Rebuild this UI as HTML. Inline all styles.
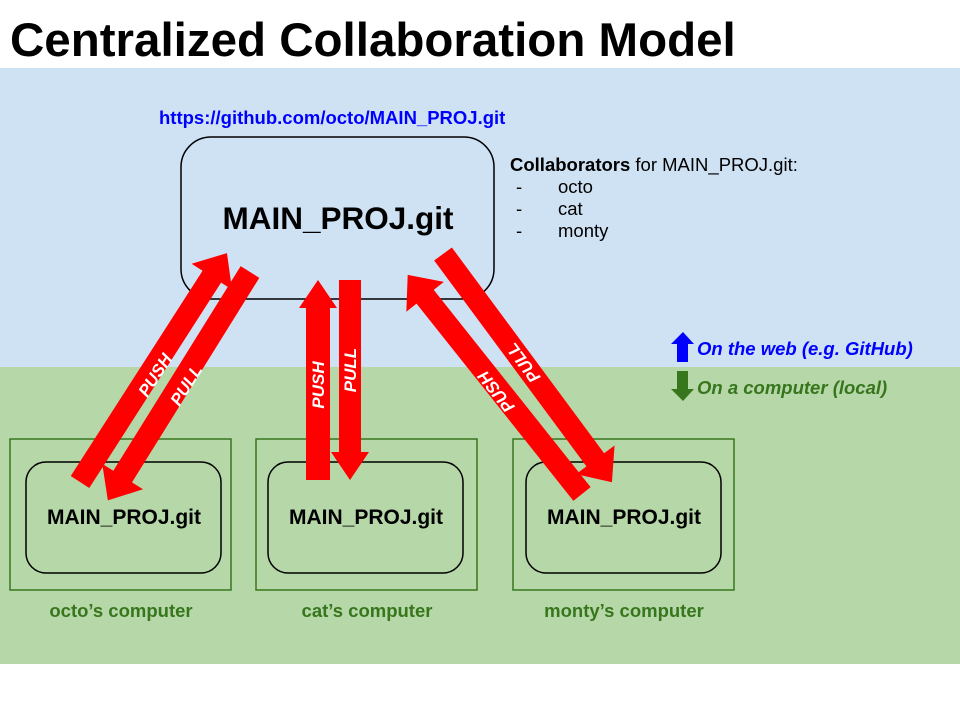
<!DOCTYPE html>
<html><head><meta charset="utf-8"><style>
body{margin:0;width:960px;height:720px;background:#fff;overflow:hidden;font-family:"Liberation Sans",Arial,sans-serif}
</style></head><body>
<svg width="960" height="720" viewBox="0 0 960 720" xmlns="http://www.w3.org/2000/svg" font-family="Liberation Sans, Arial, sans-serif">
<rect x="0" y="0" width="960" height="720" fill="#fff"/>
<text x="10" y="56" font-size="47.5" font-weight="bold" fill="#000">Centralized Collaboration Model</text>
<rect x="0" y="68" width="960" height="299" fill="#cfe2f3"/>
<rect x="0" y="367" width="960" height="297" fill="#b6d7a8"/>
<text x="159" y="124" font-size="18.5" font-weight="bold" fill="#0000ff">https://github.com/octo/MAIN_PROJ.git</text>
<rect x="181" y="137" width="313" height="162" rx="30" fill="#cfe2f3" stroke="#000" stroke-width="1.5"/>
<text x="338" y="229" font-size="31.5" font-weight="bold" text-anchor="middle">MAIN_PROJ.git</text>
<text x="510" y="171" font-size="18.5"><tspan font-weight="bold">Collaborators</tspan> for MAIN_PROJ.git:</text>
<text x="516" y="193" font-size="18.5">-</text><text x="558" y="193" font-size="18.5">octo</text>
<text x="516" y="215" font-size="18.5">-</text><text x="558" y="215" font-size="18.5">cat</text>
<text x="516" y="237" font-size="18.5">-</text><text x="558" y="237" font-size="18.5">monty</text>
<polygon points="677,362 677,344 671,344 683,332 694,344 688,344 688,362" fill="#0000ff"/>
<text x="697" y="355" font-size="18.5" font-weight="bold" font-style="italic" fill="#0000ff">On the web (e.g. GitHub)</text>
<polygon points="677,371 677,389 671,389 683,401 694,389 688,389 688,371" fill="#38761d"/>
<text x="697" y="394" font-size="18.5" font-weight="bold" font-style="italic" fill="#38761d">On a computer (local)</text>
<g fill="none" stroke="#38761d" stroke-width="1.5">
<rect x="10" y="439" width="221" height="151"/>
<rect x="256" y="439" width="221" height="151"/>
<rect x="513" y="439" width="221" height="151"/>
</g>
<g fill="#b6d7a8" stroke="#000" stroke-width="1.5">
<rect x="26" y="462" width="195" height="111" rx="20"/>
<rect x="268" y="462" width="195" height="111" rx="20"/>
<rect x="526" y="462" width="195" height="111" rx="20"/>
</g>
<g font-size="21" font-weight="bold" text-anchor="middle">
<text x="124" y="524">MAIN_PROJ.git</text>
<text x="366" y="524">MAIN_PROJ.git</text>
<text x="624" y="524">MAIN_PROJ.git</text>
</g>
<g font-size="18.5" font-weight="bold" text-anchor="middle" fill="#38761d">
<text x="121" y="617">octo’s computer</text>
<text x="367" y="617">cat’s computer</text>
<text x="624" y="617">monty’s computer</text>
</g>
<g fill="#ff0000">
<g transform="translate(80,482) rotate(-57.3)"><polygon points="0,-11 244,-11 244,-24 272,0 244,24 244,11 0,11"/></g>
<g transform="translate(250,272) rotate(121.9)"><polygon points="0,-11 241,-11 241,-24 269,0 241,24 241,11 0,11"/></g>
<g transform="translate(318,480) rotate(-90)"><polygon points="0,-12 172,-12 172,-19 200,0 172,19 172,12 0,12"/></g>
<g transform="translate(350,280) rotate(90)"><polygon points="0,-11 172,-11 172,-19 200,0 172,19 172,11 0,11"/></g>
<g transform="translate(582,494) rotate(-128.5)"><polygon points="0,-11 252,-11 252,-24 280,0 252,24 252,11 0,11"/></g>
<g transform="translate(443,254) rotate(53.5)"><polygon points="0,-11 256,-11 256,-24 284,0 256,24 256,11 0,11"/></g>
</g>
<g fill="#fff" font-size="17" font-weight="bold" font-style="italic" text-anchor="middle">
<text transform="translate(155,375) rotate(-57.3)" y="6">PUSH</text>
<text transform="translate(186,385) rotate(-58.1)" y="6">PULL</text>
<text transform="translate(318,385) rotate(-90)" y="6">PUSH</text>
<text transform="translate(350,370) rotate(-90)" y="6">PULL</text>
<text transform="translate(496,392) rotate(-128.5)" y="6">PUSH</text>
<text transform="translate(523,363) rotate(-126.5)" y="6">PULL</text>
</g>
</svg>
</body></html>
